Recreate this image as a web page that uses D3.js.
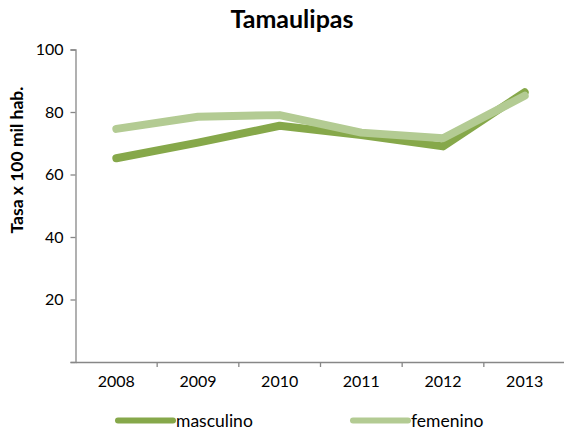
<!DOCTYPE html>
<html><head><meta charset="utf-8">
<script src="https://cdn.jsdelivr.net/npm/d3@7"></script>
<style>body{margin:0;background:#fff}svg{display:block}text{font-family:Lato,"Open Sans",sans-serif}</style>
</head><body>
<script>
const years = ["2008","2009","2010","2011","2012","2013"];
const masculino = [65.2, 70.2, 75.6, 72.6, 69.0, 86.3];
const femenino = [74.6, 78.5, 79.0, 73.4, 71.6, 85.2];
const yTicks = [20, 40, 60, 80, 100];
const seriesNames = ["masculino", "femenino"];
const colors = ["#86A84A", "#B3CB93"];

const W = 564, H = 434;
const svg = d3.select("body").append("svg").attr("width", W).attr("height", H);
const x = d3.scaleBand().domain(years).range([75.5, 565.5]);
const y = d3.scaleLinear().domain([0, 100]).range([362, 49.5]);

svg.append("text").attr("x", 292).attr("y", 28).attr("text-anchor", "middle")
  .attr("font-weight", "bold").attr("font-size", 25).text("Tamaulipas");

const yAxis = svg.append("g").attr("transform", "translate(75.5,0)")
  .call(d3.axisLeft(y).tickValues([0, ...yTicks]).tickSize(5).tickFormat(d => d === 0 ? "" : d));
const xAxis = svg.append("g").attr("transform", "translate(0,362)")
  .call(d3.axisBottom(x).tickSize(0).tickPadding(14));
[yAxis, xAxis].forEach(a => {
  a.select(".domain").attr("stroke", "#878787").attr("stroke-width", 1.3);
  a.selectAll(".tick line").attr("stroke", "#878787").attr("stroke-width", 1.3);
  a.selectAll("text").attr("font-size", 16).attr("fill", "#000");
});
yAxis.selectAll("text").attr("dx", "-4");
xAxis.selectAll(".extra").data(years.map(d => x(d)).concat([x.range()[1]]).slice(1)).enter()
  .append("line").attr("x1", d => d).attr("x2", d => d).attr("y1", 0).attr("y2", 5)
  .attr("stroke", "#878787").attr("stroke-width", 1.3);

svg.append("text").attr("transform", "translate(23,160) rotate(-90)")
  .attr("text-anchor", "middle").attr("font-weight", "bold").attr("font-size", 17.5)
  .text("Tasa x 100 mil hab.");

const line = d3.line().x((d, i) => x(years[i]) + x.bandwidth() / 2).y(d => y(d));
[masculino, femenino].forEach((s, i) => {
  svg.append("path").datum(s).attr("d", line).attr("fill", "none")
    .attr("stroke", colors[i]).attr("stroke-width", 8)
    .attr("stroke-linecap", "round").attr("stroke-linejoin", "round");
});

const legX = [118, 353];
seriesNames.forEach((n, i) => {
  svg.append("line").attr("x1", legX[i]).attr("x2", legX[i] + 55).attr("y1", 420.5).attr("y2", 420.5)
    .attr("stroke", colors[i]).attr("stroke-width", 6).attr("stroke-linecap", "round");
  svg.append("text").attr("x", legX[i] + 58).attr("y", 426.5).attr("font-size", 17.5).text(n);
});
</script>
</body></html>
